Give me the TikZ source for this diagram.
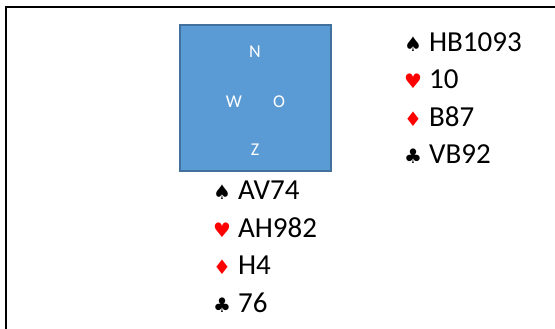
\documentclass[tikz,border=0pt]{standalone}
\usepackage{fontspec}
\setmainfont{Carlito}
\newfontfamily\suitfont{DejaVu Sans}
\usepackage{xcolor}
\usetikzlibrary{positioning}

\newcommand{\schoppen}{{\suitfont\fontsize{20}{20}\selectfont ♠}}
\newcommand{\harten}{{\suitfont\fontsize{20}{20}\selectfont\textcolor{suitred}{♥}}}
\newcommand{\ruiten}{{\suitfont\fontsize{20}{20}\selectfont\textcolor{suitred}{♦}}}
\newcommand{\klaveren}{{\suitfont\fontsize{20}{20}\selectfont ♣}}

\begin{document}
\begin{tikzpicture}[x=1pt,y=-1pt]
	\definecolor{boardblue}{RGB}{91,155,213}
	\definecolor{boardedge}{RGB}{65,113,156}
	\definecolor{suitred}{RGB}{255,0,0}
	\tikzset{
		board/.style={
			rectangle,
			fill=boardblue,
			draw=boardedge,
			line width=2pt,
			minimum width=151pt,
			minimum height=146pt,
			inner sep=0pt
		},
		wind/.style={
			text=white,
			inner sep=0pt,
			font=\fontsize{18}{20}\selectfont
		},
		hand/.style={
			anchor=west,
			inner sep=0pt,
			font=\fontsize{29}{32}\selectfont
		}
	}
	\useasboundingbox (0,0) rectangle (555,329);
	
	% ======= Kader =======
	\draw[line width=2.5pt] (555,7) -- (6,7) -- (6,329);
	
	% ======= Tafel =======
	\node[board] (tafel) at (255.5,98) {};
	\node[wind] (noord) at (255,52) {N};
	\node[wind] (west) at (234,102) {W};
	\node[wind] (oost) at (279,102) {O};
	\node[wind] (zuid) at (255,150) {Z};
	
	% ======= Hand rechtsboven =======
	\node[hand] (ns) at (404,42) {\schoppen\hspace{7pt}HB1093};
	\node[hand] (nh) at (404,79.5) {\harten\hspace{7pt}10};
	\node[hand] (nr) at (404,117) {\ruiten\hspace{7pt}B87};
	\node[hand] (nk) at (404,154.5) {\klaveren\hspace{7pt}VB92};
	
	% ======= Hand zuid =======
	\node[hand] (zs) at (213,190) {\schoppen\hspace{7pt}AV74};
	\node[hand] (zh) at (213,227.5) {\harten\hspace{7pt}AH982};
	\node[hand] (zr) at (213,265) {\ruiten\hspace{7pt}H4};
	\node[hand] (zk) at (213,302.5) {\klaveren\hspace{7pt}76};
\end{tikzpicture}
\end{document}
